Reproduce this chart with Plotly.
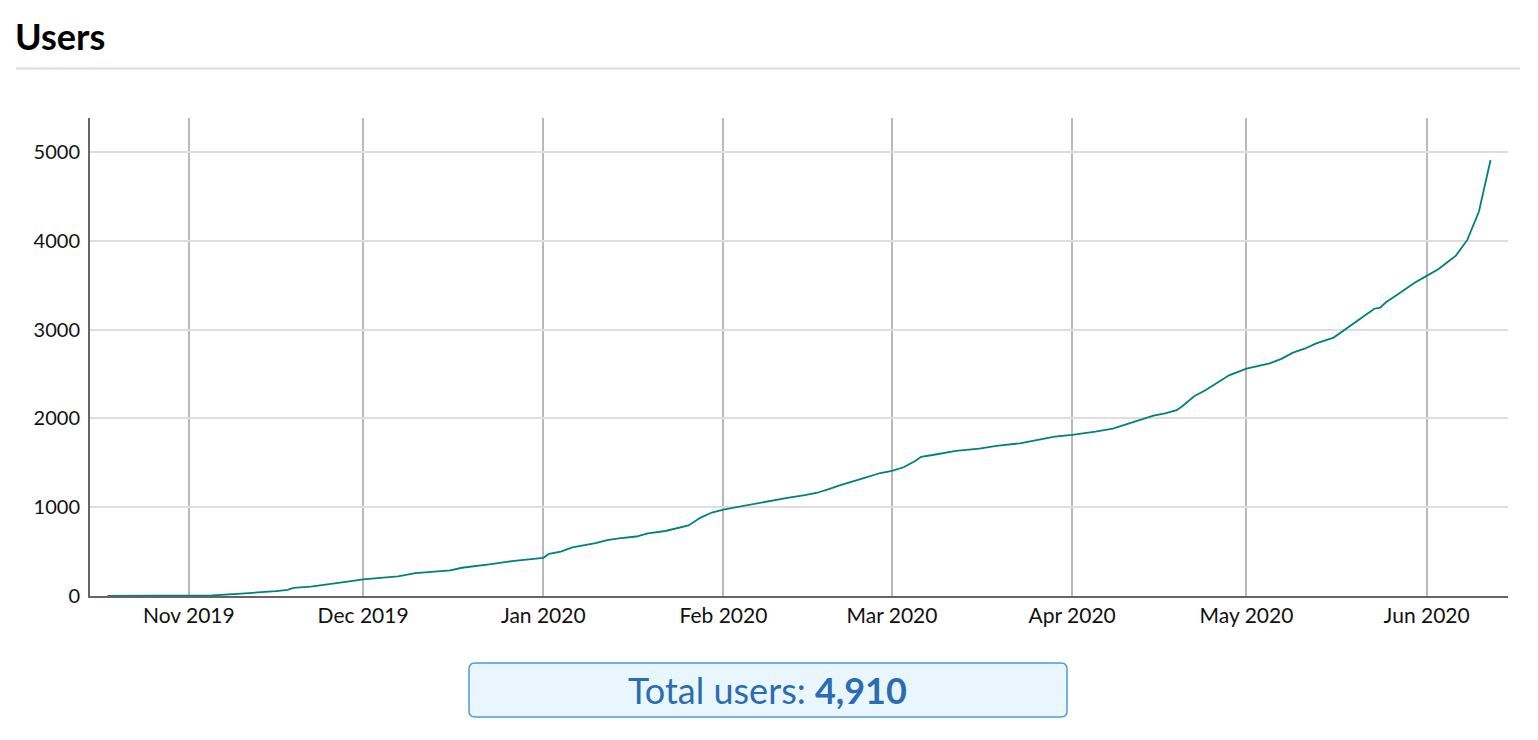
import plotly.graph_objects as go

# cumulative users
dates = [
    "2019-10-18", "2019-10-25", "2019-11-01", "2019-11-05", "2019-11-10",
    "2019-11-13", "2019-11-16", "2019-11-18", "2019-11-19", "2019-11-22",
    "2019-11-25", "2019-11-28", "2019-12-01", "2019-12-04", "2019-12-07",
    "2019-12-10", "2019-12-13", "2019-12-16", "2019-12-18", "2019-12-21",
    "2019-12-23", "2019-12-27", "2019-12-31", "2020-01-01", "2020-01-02",
    "2020-01-04", "2020-01-06", "2020-01-10", "2020-01-12", "2020-01-14",
    "2020-01-17", "2020-01-19", "2020-01-22", "2020-01-25", "2020-01-26",
    "2020-01-28", "2020-01-30", "2020-02-01", "2020-02-04", "2020-02-06",
    "2020-02-09", "2020-02-12", "2020-02-15", "2020-02-17", "2020-02-19",
    "2020-02-21", "2020-02-25", "2020-02-28", "2020-03-01", "2020-03-03",
    "2020-03-05", "2020-03-06", "2020-03-08", "2020-03-12", "2020-03-16",
    "2020-03-19", "2020-03-23", "2020-03-26", "2020-03-29", "2020-04-01",
    "2020-04-05", "2020-04-08", "2020-04-12", "2020-04-15", "2020-04-17",
    "2020-04-19", "2020-04-20", "2020-04-22", "2020-04-24", "2020-04-26",
    "2020-04-28", "2020-05-01", "2020-05-05", "2020-05-07", "2020-05-09",
    "2020-05-11", "2020-05-13", "2020-05-16", "2020-05-18", "2020-05-20",
    "2020-05-22", "2020-05-23", "2020-05-24", "2020-05-25", "2020-05-27",
    "2020-05-29", "2020-05-30", "2020-06-01", "2020-06-03", "2020-06-05",
    "2020-06-06", "2020-06-08", "2020-06-10", "2020-06-12",
]
users = [
    0, 0, 0, 6, 27,
    38, 55, 68, 92, 106,
    130, 160, 188, 205, 222,
    258, 275, 288, 318, 340,
    358, 396, 420, 430, 475,
    500, 548, 595, 630, 650,
    670, 705, 732, 775, 795,
    880, 940, 974, 1010, 1040,
    1075, 1105, 1135, 1160, 1200,
    1245, 1325, 1385, 1410, 1450,
    1520, 1568, 1588, 1635, 1660,
    1690, 1720, 1760, 1795, 1815,
    1850, 1885, 1970, 2030, 2057,
    2092, 2140, 2250, 2320, 2400,
    2485, 2560, 2620, 2670, 2740,
    2785, 2845, 2910, 3000, 3090,
    3180, 3235, 3248, 3308, 3395,
    3490, 3530, 3605, 3680, 3780,
    3830, 4010, 4330, 4910,
]
y_ticks = [0, 1000, 2000, 3000, 4000, 5000]
total_users = users[-1]

W, H = 1538, 740
L, R, T, B = 90, 30, 118, 144
pw, ph = W - L - R, H - T - B


def px(x):
    return (x - L) / pw


def py(y):
    return (H - B - y) / ph


FONT = "Lato, 'Open Sans', sans-serif"

fig = go.Figure(
    data=[
        go.Scatter(
            x=dates,
            y=users,
            mode='lines',
            line={'color': '#008080', 'width': 1.8},
            hoverinfo='x+y',
        ),
    ]
)

# rounded box for the total
bx0, bx1, by0, by1, rad = px(469), px(1067), py(717), py(663), 6
rx, ry = rad / pw, rad / ph
box_path = (
    f"M {bx0 + rx},{by0} L {bx1 - rx},{by0} Q {bx1},{by0} {bx1},{by0 + ry} "
    f"L {bx1},{by1 - ry} Q {bx1},{by1} {bx1 - rx},{by1} "
    f"L {bx0 + rx},{by1} Q {bx0},{by1} {bx0},{by1 - ry} "
    f"L {bx0},{by0 + ry} Q {bx0},{by0} {bx0 + rx},{by0} Z"
)

fig.update_layout(
    width=W,
    height=H,
    margin={'l': L, 'r': R, 't': T, 'b': B},
    paper_bgcolor='white',
    plot_bgcolor='white',
    showlegend=False,
    font={'family': FONT, 'size': 20, 'color': '#111'},
    xaxis={
        'range': ['2019-10-15', '2020-06-15'],
        'tickformat': '%b %Y',
        'dtick': 'M1',
        'tick0': '2019-11-01',
        'tickfont': {'size': 21},
        'showgrid': True,
        'gridcolor': '#b9b9b9',
        'gridwidth': 1.5,
        'showline': True,
        'linecolor': '#666',
        'linewidth': 2,
        'ticks': '',
        'ticklabelstandoff': 0,
        'zeroline': False,
    },
    yaxis={
        'range': [0, 5383],
        'tickvals': y_ticks,
        'showgrid': True,
        'gridcolor': '#dedede',
        'gridwidth': 1.5,
        'showline': True,
        'linecolor': '#666',
        'linewidth': 2,
        'ticks': '',
        'ticklabelstandoff': 4,
        'zeroline': False,
    },
    shapes=[
        {'type': 'line', 'xref': 'paper', 'yref': 'paper',
         'x0': px(16), 'x1': px(1520), 'y0': py(68.5), 'y1': py(68.5),
         'line': {'color': '#dcdcdc', 'width': 2}},
        {'type': 'path', 'xref': 'paper', 'yref': 'paper', 'path': box_path,
         'fillcolor': '#eaf6fe', 'line': {'color': '#4a9be0', 'width': 1.5}},
    ],
    annotations=[
        {'text': '<b>Users</b>', 'xref': 'paper', 'yref': 'paper',
         'x': px(13), 'y': py(36), 'xanchor': 'left', 'yanchor': 'middle',
         'showarrow': False, 'font': {'family': FONT, 'size': 36, 'color': '#000'}},
        {'text': f'Total users: <b>{total_users:,}</b>', 'xref': 'paper', 'yref': 'paper',
         'x': px(767), 'y': py(690), 'xanchor': 'center', 'yanchor': 'middle',
         'showarrow': False, 'font': {'family': FONT, 'size': 36, 'color': '#2b6db3'}},
    ],
)

fig.write_html(
    "out.html",
    config={'displayModeBar': False},
    post_script="document.body.style.margin='0';document.body.style.overflow='hidden';",
)
